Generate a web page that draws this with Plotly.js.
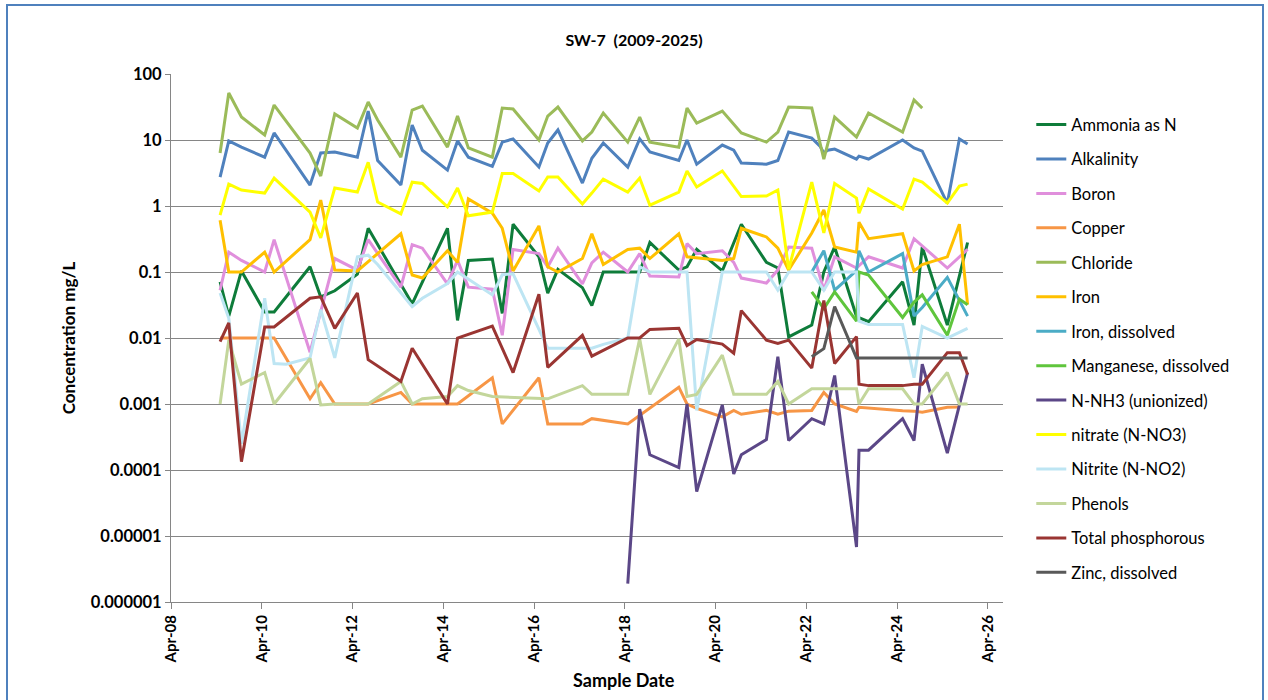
<!DOCTYPE html>
<html>
<head>
<meta charset="utf-8">
<script src="https://cdn.plot.ly/plotly-3.0.1.min.js"></script>
<style>
html,body{margin:0;padding:0;background:#fff;}
#wrap{position:relative;width:1268px;height:700px;overflow:hidden;}
#chart{width:1268px;height:700px;}
#frame{position:absolute;left:6px;top:4px;width:1254px;height:720px;border:2px solid #4F81BD;pointer-events:none;}
</style>
</head>
<body>
<div id="wrap"><div id="chart"></div><div id="frame"></div></div>
<script>
// Sample dates (shared by all series, Excel-style)
const sampleDates = [
'2009-05-01','2009-07-10','2009-10-20',
'2010-04-25','2010-07-10','2010-10-15',
'2011-04-25','2011-07-20','2011-11-10',
'2012-05-10','2012-08-05','2012-10-20',
'2013-04-25','2013-07-25','2013-10-15',
'2014-05-05','2014-07-25','2014-10-20',
'2015-05-01','2015-07-20','2015-10-15',
'2016-05-10','2016-07-20','2016-10-10',
'2017-04-25','2017-07-10','2017-10-10',
'2018-04-25','2018-07-30','2018-10-20',
'2019-06-10','2019-08-15','2019-11-01',
'2020-05-25','2020-08-25','2020-10-25',
'2021-05-15','2021-08-15','2021-11-10',
'2022-05-15','2022-07-20','2022-08-20','2022-09-20','2022-11-15',
'2023-05-10','2023-05-30','2023-08-15',
'2024-05-15','2024-08-15','2024-10-20',
'2025-05-10','2025-08-15','2025-10-20'];

const ammonia = [
0.071,0.0215,0.104,
0.0248,0.0248,null,
0.12,0.042,0.052,
0.093,0.46,null,
null,0.033,null,
0.46,0.0185,0.15,
0.157,0.0236,0.53,
0.17,0.048,0.11,
0.058,0.031,0.1,
0.1,0.1,0.28,
0.107,0.12,0.22,
0.104,null,0.53,
0.14,0.115,0.0104,
0.0157,null,0.1,null,0.24,
0.021,null,0.0177,
0.071,0.0157,0.24,
0.0157,null,0.28];

const alkalinity = [
2.75,9.7,7.8,
5.5,12.8,null,
2.08,6.35,6.6,
5.5,27.5,4.9,
2.08,16.9,7.0,
3.5,9.7,5.5,
4.0,9.3,10.4,
3.9,9,14.2,
2.23,5.3,9.0,
3.9,10.4,6.6,
4.9,10,4.3,
8.4,7.0,4.5,
4.3,4.9,13.2,
10.7,8.1,6.35,7.0,7.3,
5.15,5.7,5.15,
10,7.6,6.8,
1.1,10.4,8.7];

const boron = [
0.053,0.2,0.15,
0.1,0.31,null,
0.0061,null,0.16,
0.107,0.31,null,
0.059,0.26,0.23,
0.066,0.15,0.059,
0.055,0.011,0.22,
0.19,0.12,0.23,
0.066,0.137,0.2,
0.1,0.19,0.087,
0.084,0.27,0.19,
0.21,0.14,0.081,
0.068,0.107,0.24,
0.23,null,0.053,null,0.17,
0.115,null,0.17,
0.115,0.32,0.25,
0.115,null,0.22];

const copper = [
0.01,0.01,0.01,
0.01,0.01,null,
0.0012,0.0021,0.001,
0.001,0.001,null,
0.0015,0.001,0.001,
0.001,0.001,null,
0.0025,0.0005,null,
0.0025,0.0005,0.0005,
0.0005,0.0006,null,
0.0005,null,null,
0.0018,0.001,0.00086,
0.00064,0.0008,0.0007,
0.0008,0.0007,0.00078,
0.0008,null,0.0015,null,0.001,
0.00077,0.00089,null,
0.00079,0.00078,0.00075,
0.00089,0.0009,null];

const chloride = [
6.35,51.5,22.3,
11.9,33.9,null,
6.35,2.85,24.8,
15.2,37.6,20.1,
5.5,28.5,32.7,
7.8,23.1,7.6,
5.5,30.5,29.5,
10,23.1,31.6,
9.7,13.2,25.7,
9.3,22.3,9.3,
7.8,30.5,18.1,
27.5,null,12.8,
9.3,13.2,31.6,
30.5,null,5.15,null,22.3,
11.1,null,25.7,
13.2,40.4,30.5,
null,null,null];

const iron = [
0.61,0.1,0.1,
0.2,0.1,null,
0.31,1.23,0.107,
0.104,null,null,
0.38,0.09,0.081,
0.21,0.14,1.28,
0.78,0.46,0.104,
0.5,0.12,0.1,
0.16,0.38,0.13,
0.22,0.23,0.16,
0.38,0.17,null,
0.15,0.16,0.46,
0.34,0.23,0.107,
0.39,null,0.87,null,0.24,
0.2,0.57,0.32,
0.38,0.104,0.13,
0.17,0.53,0.032];

const ironDissolved = [
null,null,null, null,null,null, null,null,null, null,null,null,
null,null,null, null,null,null, null,null,null, null,null,null,
null,null,null, null,null,null, null,null,null, null,null,null,
null,null,null,
0.1,null,0.21,null,0.053,
0.105,0.21,0.1,
0.19,0.0215,0.029,
0.083,null,0.0215];

const manganeseDissolved = [
null,null,null, null,null,null, null,null,null, null,null,null,
null,null,null, null,null,null, null,null,null, null,null,null,
null,null,null, null,null,null, null,null,null, null,null,null,
null,null,null,
0.05,null,0.028,null,0.05,
0.018,0.1,0.09,
0.0205,0.035,0.045,
0.011,0.039,0.032];

const nNH3 = [
null,null,null, null,null,null, null,null,null, null,null,null,
null,null,null, null,null,null, null,null,null, null,null,null,
null,null,null,
0.0000019,0.00084,0.00017,
0.000109,0.001,0.000047,
0.00097,0.000087,0.00017,
0.00029,0.0052,0.00028,
0.0006,null,0.0005,null,0.0027,
0.0000068,0.0002,0.0002,
0.0006,0.00028,0.004,
0.00018,null,0.003];

const nitrate = [
0.73,2.15,1.75,
1.57,2.65,null,
0.81,0.33,1.87,
1.63,4.6,1.15,
0.76,2.3,2.2,
0.97,1.87,0.71,
0.81,3.1,3.1,
1.69,2.75,2.75,
1.07,1.57,2.56,
1.63,2.65,1.03,
1.63,3.4,1.94,
3.4,null,1.39,
1.42,1.75,0.11,
2.3,null,0.39,null,2.2,
1.32,0.78,1.81,
0.9,2.56,2.3,
1.11,2.0,2.15];

const nitrite = [
0.048,0.02,0.00025,
0.04,0.0041,0.004,
0.005,0.027,0.005,
0.17,0.18,0.13,
null,0.03,0.04,
0.067,0.1,null,
0.045,0.091,0.094,
null,0.007,0.007,
0.007,0.007,0.008,
0.01,0.12,0.1,
0.1,0.1,0.0008,
0.1,0.1,0.1,
0.1,0.053,0.1,
0.1,null,0.053,null,0.1,
0.1,0.018,0.016,
0.016,0.0025,0.015,
0.01,null,0.014];

const phenols = [
0.001,0.0093,0.002,
0.003,0.001,null,
0.0049,0.00097,0.001,
0.001,0.001,null,
0.0022,0.001,0.0012,
0.0013,0.0019,0.0016,
0.0013,null,null,
0.0012,0.0012,null,
0.0019,0.0014,0.0014,
0.0014,0.0097,0.0014,
0.0097,0.0013,0.0014,
0.0055,0.0014,0.0014,
0.0014,0.0022,0.001,
0.0017,null,0.0017,null,0.0017,
0.0017,0.001,0.0017,
0.0017,0.001,0.001,
0.003,0.001,0.001];

const totalPhosphorous = [
0.0088,0.017,0.000134,
0.0147,0.0147,null,
0.04,0.042,0.014,
0.048,0.0047,null,
0.0022,0.007,null,
0.001,0.01,null,
0.0152,null,0.003,
0.046,0.0036,null,
0.011,0.0053,null,
0.01,0.01,0.0135,
0.0141,0.0077,0.0095,
0.0081,0.0059,0.026,
0.0093,0.0083,0.0093,
0.0035,null,0.037,null,0.0041,
0.0105,0.002,0.0019,
0.0019,0.002,0.002,
0.006,0.006,0.0028];

const zincDissolved = [
null,null,null, null,null,null, null,null,null, null,null,null,
null,null,null, null,null,null, null,null,null, null,null,null,
null,null,null, null,null,null, null,null,null, null,null,null,
null,null,null,
0.0052,null,0.0069,null,0.03,
0.005,0.005,0.005,
0.005,0.005,0.005,
0.005,0.005,0.005];

const seriesNames = ['Ammonia as N','Alkalinity','Boron','Copper','Chloride','Iron','Iron, dissolved',
  'Manganese, dissolved','N-NH3 (unionized)','nitrate (N-NO3)','Nitrite (N-NO2)','Phenols',
  'Total phosphorous','Zinc, dissolved'];
const seriesValues = [ammonia, alkalinity, boron, copper, chloride, iron, ironDissolved,
  manganeseDissolved, nNH3, nitrate, nitrite, phenols, totalPhosphorous, zincDissolved];
const seriesColors = ['#0E7C3A','#4F81BD','#E08FDC','#F79646','#9BBB59','#FFC000','#4BACC6',
  '#5FC53C','#5B4787','#FFFF00','#BDE5F3','#C3D69B','#9A3532','#595959'];

const yTickVals = [100,10,1,0.1,0.01,0.001,0.0001,0.00001,0.000001];
const yTickText = ['100','10','1','0.1','0.01','0.001','0.0001','0.00001','0.000001'];

const FONT = 'Lato, "Open Sans", "DejaVu Sans", sans-serif';

const traces = seriesNames.map((name, i) => ({
  type: 'scatter', mode: 'lines', name: name,
  x: sampleDates, y: seriesValues[i],
  connectgaps: true,
  line: {color: seriesColors[i], width: 3},
  legendgroup: 'g' + i
}));

const layout = {
  width: 1268, height: 700,
  paper_bgcolor: '#ffffff', plot_bgcolor: '#ffffff',
  margin: {l: 171, r: 265, t: 74, b: 98},
  font: {family: FONT, color: '#000000'},
  title: {text: 'SW-7  (2009-2025)', x: 0.5, xref: 'container', y: 0.943, yref: 'container',
          yanchor: 'middle', font: {size: 16, weight: 'bold', family: FONT, color: '#000'}},
  xaxis: {
    type: 'date', range: ['2008-04-01', '2026-08-01'],
    tick0: '2008-04-01', dtick: 'M24', tickformat: '%b-%y',
    tickangle: -90, ticks: 'outside', ticklen: 6, tickcolor: '#868686',
    showline: true, linecolor: '#868686', linewidth: 1,
    showgrid: false, zeroline: false,
    tickfont: {size: 15, weight: 'bold', family: FONT, color: '#000'}
  },
  yaxis: {
    type: 'log', range: [-6, 2.0005],
    tickvals: yTickVals, ticktext: yTickText,
    ticks: 'outside', ticklen: 5, tickcolor: '#868686',
    showline: true, linecolor: '#868686', linewidth: 1,
    showgrid: true, gridcolor: '#868686', gridwidth: 1, zeroline: false,
    tickfont: {size: 16.5, weight: 'bold', family: FONT, color: '#000'},
    title: {text: 'Concentration mg/L', standoff: 10, font: {size: 17, weight: 'bold', family: FONT, color: '#000'}}
  },
  legend: {
    x: 1.034, xanchor: 'left', y: 0.937, yanchor: 'top',
    font: {size: 16.5, family: FONT, color: '#000'},
    traceorder: 'grouped', tracegroupgap: 10,
    bgcolor: 'rgba(0,0,0,0)', borderwidth: 0
  },
  annotations: [{
    text: 'Sample Date', xref: 'paper', yref: 'paper', x: 0.545, y: -0.148,
    xanchor: 'center', yanchor: 'middle', showarrow: false,
    font: {size: 18, weight: 'bold', family: FONT, color: '#000'}
  }],
  showlegend: true
};

Plotly.newPlot('chart', traces, layout, {displayModeBar: false, staticPlot: true});
</script>
</body>
</html>
